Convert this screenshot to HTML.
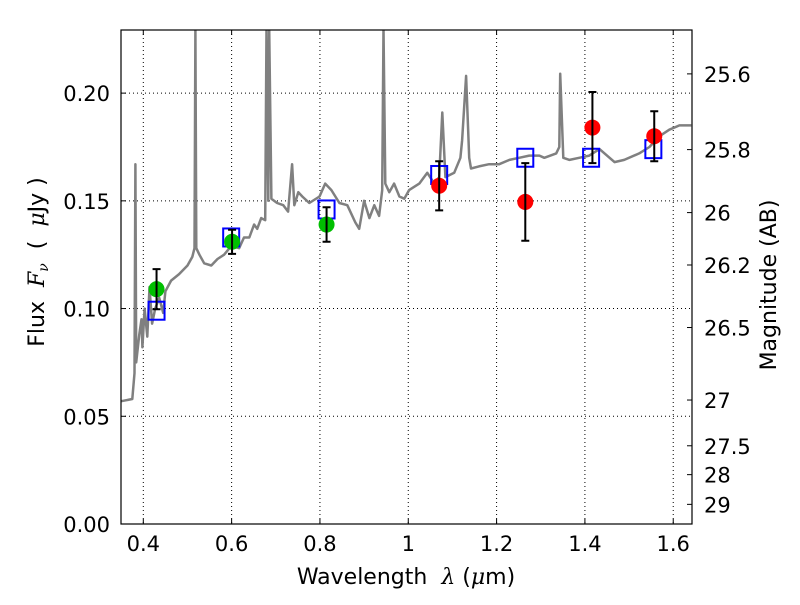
<!DOCTYPE html>
<html><head><meta charset="utf-8"><style>
body{margin:0;background:#fff;width:800px;height:600px;overflow:hidden}
svg text{font-family:"DejaVu Sans","Liberation Sans",sans-serif;fill:#000}
</style></head><body>
<svg id="chart" width="800" height="600">
<g id="grid"></g>
<g id="spec"></g>
<g id="marks"></g>
<g id="axes"></g>
</svg>
<script>
const specLam=[0.35,0.375,0.380,0.382,0.384,0.391,0.396,0.398,0.403,0.409,0.414,0.420,0.427,0.436,0.445,0.450,0.463,0.481,0.500,0.511,0.516,0.518,0.520,0.527,0.538,0.554,0.568,0.583,0.599,0.617,0.628,0.640,0.651,0.658,0.667,0.676,0.679,0.683,0.685,0.690,0.703,0.717,0.728,0.737,0.742,0.751,0.760,0.776,0.799,0.812,0.826,0.844,0.862,0.880,0.889,0.900,0.912,0.923,0.934,0.941,0.944,0.948,0.957,0.968,0.980,0.991,1.002,1.025,1.043,1.059,1.070,1.077,1.084,1.104,1.118,1.122,1.131,1.138,1.142,1.160,1.183,1.206,1.229,1.251,1.274,1.297,1.308,1.335,1.342,1.344,1.351,1.365,1.387,1.410,1.433,1.467,1.489,1.523,1.546,1.569,1.591,1.614,1.641];
const specFlux=[0.057,0.058,0.070,0.167,0.075,0.088,0.095,0.082,0.100,0.087,0.110,0.093,0.100,0.105,0.098,0.108,0.113,0.116,0.120,0.124,0.128,0.23,0.128,0.125,0.121,0.120,0.123,0.125,0.129,0.128,0.133,0.133,0.139,0.137,0.142,0.141,0.23,0.150,0.23,0.151,0.149,0.148,0.145,0.167,0.148,0.154,0.152,0.149,0.152,0.158,0.155,0.149,0.148,0.140,0.137,0.150,0.142,0.148,0.143,0.155,0.23,0.158,0.154,0.158,0.152,0.151,0.155,0.158,0.163,0.158,0.161,0.191,0.161,0.163,0.170,0.178,0.208,0.170,0.165,0.166,0.167,0.167,0.169,0.170,0.171,0.171,0.170,0.172,0.175,0.209,0.170,0.169,0.170,0.171,0.174,0.168,0.169,0.172,0.175,0.180,0.183,0.185,0.185];
const modelLam=[0.43,0.599,0.815,1.07,1.265,1.414,1.555];
const modelFlux=[0.099,0.133,0.146,0.162,0.170,0.170,0.174];
const greenLam=[0.43,0.601,0.815];
const greenFlux=[0.109,0.131,0.139];
const greenErr=[0.0093,0.0056,0.008];
const redLam=[1.07,1.265,1.417,1.557];
const redFlux=[0.157,0.1495,0.184,0.180];
const redErr=[0.0114,0.018,0.0165,0.0116];
const xTicks=[0.4,0.6,0.8,1,1.2,1.4,1.6];
const xTickLabels=["0.4","0.6","0.8","1","1.2","1.4","1.6"];
const yTicks=[0,0.05,0.10,0.15,0.20];
const yTickLabels=["0.00","0.05","0.10","0.15","0.20"];
const magTicks=[25.6,25.8,26,26.2,26.5,27,27.5,28,29];
const magLabels=["25.6","25.8","26","26.2","26.5","27","27.5","28","29"];

const L=121,R=692,T=30,B=524,x0=0.3495,x1=1.6425,y0=0,y1=0.2293;
const X=v=>L+(v-x0)/(x1-x0)*(R-L);
const Y=v=>B-(v-y0)/(y1-y0)*(B-T);
const NS="http://www.w3.org/2000/svg";
function mk(parent,tag,attrs){const e=document.createElementNS(NS,tag);for(const k in attrs)e.setAttribute(k,attrs[k]);document.getElementById(parent).appendChild(e);return e;}

const defs=document.createElementNS(NS,'defs');
defs.innerHTML='<clipPath id="clip"><rect x="'+L+'" y="'+T+'" width="'+(R-L)+'" height="'+(B-T)+'"/></clipPath>';
document.getElementById('chart').prepend(defs);
document.getElementById('spec').setAttribute('clip-path','url(#clip)');

xTicks.forEach(t=>{const g=mk('grid','line',{x1:X(t),x2:X(t),y1:T,y2:B,stroke:'#000','stroke-width':1,'stroke-dasharray':'1,3'});

});
yTicks.forEach(t=>{const g=mk('grid','line',{x1:L,x2:R,y1:Y(t),y2:Y(t),stroke:'#000','stroke-width':1,'stroke-dasharray':'1,3'});

});

const d=specLam.map((l,i)=>(i?'L':'M')+X(l).toFixed(1)+','+Y(Math.min(specFlux[i],0.24)).toFixed(1)).join('');
const sp=mk('spec','path',{d:d,fill:'none',stroke:'#808080','stroke-width':2.5,'stroke-linejoin':'round'});



modelLam.forEach((l,i)=>{const s=mk('marks','rect',{x:X(l)-8,y:Y(modelFlux[i])-9,width:16,height:18,fill:'none',stroke:'#0000ff','stroke-width':2});

});

function pts(lam,flux,err,color,name){
lam.forEach((l,i)=>{
const c=mk('marks','circle',{cx:X(l),cy:Y(flux[i]),r:8,fill:color});


const xx=X(l),ya=Y(flux[i]+err[i]),yb=Y(flux[i]-err[i]);
const e=mk('marks','path',{d:`M${xx},${ya}V${yb}M${xx-4},${ya}H${xx+4}M${xx-4},${yb}H${xx+4}`,stroke:'#000','stroke-width':2,fill:'none'});

});}
pts(greenLam,greenFlux,greenErr,'#00bf00','green');
pts(redLam,redFlux,redErr,'#ff0000','red');

const fr=mk('axes','rect',{x:L,y:T,width:R-L,height:B-T,fill:'none',stroke:'#000','stroke-width':1.2});


xTicks.forEach((t,i)=>{
mk('axes','line',{x1:X(t),x2:X(t),y1:B,y2:B-5,stroke:'#000'});
mk('axes','line',{x1:X(t),x2:X(t),y1:T,y2:T+5,stroke:'#000'});
const tx=mk('axes','text',{x:X(t),y:B+27,'font-size':21,'text-anchor':'middle'});tx.textContent=xTickLabels[i];

});
yTicks.forEach((t,i)=>{
mk('axes','line',{x1:L,x2:L+5,y1:Y(t),y2:Y(t),stroke:'#000'});
const tx=mk('axes','text',{x:L-11,y:Y(t)+8,'font-size':21,'text-anchor':'end'});tx.textContent=yTickLabels[i];

});
magTicks.forEach((m,i)=>{
const y=Y(Math.pow(10,(23.9-m)/2.5));
mk('axes','line',{x1:R,x2:R-5,y1:y,y2:y,stroke:'#000'});
const tx=mk('axes','text',{x:R+12,y:y+8,'font-size':21});tx.textContent=magLabels[i];

});
</script>
<svg width="800" height="600" style="position:absolute;left:0;top:0">
<text x="406" y="584" font-size="22" text-anchor="middle" font-family="DejaVu Sans,sans-serif" xml:space="preserve">Wavelength  <tspan font-family="DejaVu Serif,serif" font-style="italic">λ</tspan> (<tspan font-family="DejaVu Serif,serif" font-style="italic">μ</tspan>m)</text>
<text transform="translate(44,262) rotate(-90)" font-size="22" text-anchor="middle" font-family="DejaVu Sans,sans-serif" xml:space="preserve">Flux  <tspan font-family="DejaVu Serif,serif" font-style="italic">F<tspan font-size="14" dy="4">ν</tspan></tspan><tspan dy="-4">  (  </tspan><tspan font-family="DejaVu Serif,serif" font-style="italic">μ</tspan>Jy )</text>
<text transform="translate(776,285) rotate(-90)" font-size="22" text-anchor="middle" font-family="DejaVu Sans,sans-serif">Magnitude (AB)</text>
</svg>
</body></html>
